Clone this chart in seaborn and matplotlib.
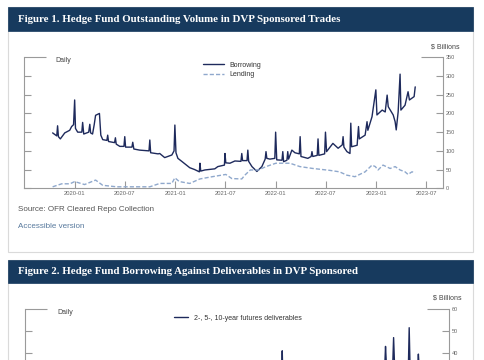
import numpy as np
import pandas as pd
import matplotlib
matplotlib.use("Agg")
import matplotlib.pyplot as plt
import matplotlib.dates as mdates
from matplotlib.patches import Rectangle
import seaborn as sns

# ---------------- data ----------------
borrow_dates = [
    "2019-10-13", "2019-10-28", "2019-10-31", "2019-11-03", "2019-11-10", "2019-11-26",
    "2019-12-14", "2019-12-21", "2019-12-28", "2020-01-01", "2020-01-04", "2020-01-12",
    "2020-01-27", "2020-01-30", "2020-02-03", "2020-02-21", "2020-02-25", "2020-02-28",
    "2020-03-06", "2020-03-12", "2020-03-17", "2020-03-25", "2020-03-31", "2020-04-05",
    "2020-04-12", "2020-04-27", "2020-04-30", "2020-05-03", "2020-05-25", "2020-05-28",
    "2020-05-31", "2020-06-13", "2020-06-28", "2020-07-01", "2020-07-04", "2020-07-27",
    "2020-07-30", "2020-08-03", "2020-08-24", "2020-09-27", "2020-09-30", "2020-10-03",
    "2020-10-30", "2020-11-05", "2020-11-23", "2020-12-19", "2020-12-27", "2020-12-30",
    "2021-01-03", "2021-01-10", "2021-01-24", "2021-02-22", "2021-03-12", "2021-03-29",
    "2021-03-31", "2021-04-03", "2021-04-18", "2021-05-24", "2021-06-04", "2021-06-28",
    "2021-06-30", "2021-07-03", "2021-07-18", "2021-08-05", "2021-08-27", "2021-08-30",
    "2021-09-02", "2021-09-18", "2021-09-21", "2021-09-24", "2021-10-06", "2021-10-24",
    "2021-11-11", "2021-11-23", "2021-11-26", "2021-11-29", "2021-12-10", "2021-12-28",
    "2021-12-31", "2022-01-04", "2022-01-23", "2022-01-26", "2022-01-29", "2022-02-10",
    "2022-02-13", "2022-02-16", "2022-02-28", "2022-03-11", "2022-03-27", "2022-03-30",
    "2022-04-02", "2022-04-27", "2022-05-09", "2022-05-12", "2022-05-15", "2022-05-31",
    "2022-06-03", "2022-06-06", "2022-06-27", "2022-06-30", "2022-07-04", "2022-07-27",
    "2022-08-15", "2022-08-30", "2022-09-02", "2022-09-05", "2022-09-16", "2022-09-27",
    "2022-09-30", "2022-10-03", "2022-10-23", "2022-10-28", "2022-10-31", "2022-11-21",
    "2022-11-28", "2022-12-01", "2022-12-16", "2022-12-30", "2023-01-03", "2023-01-22",
    "2023-02-02", "2023-02-09", "2023-02-13", "2023-03-03", "2023-03-10", "2023-03-14",
    "2023-03-21", "2023-03-28", "2023-03-31", "2023-04-15", "2023-04-26", "2023-05-01",
    "2023-05-18", "2023-05-22",
]
borrow_values = [
    148, 140, 167, 138, 132, 148,
    155, 165, 170, 236, 160, 150,
    150, 176, 145, 150, 171, 148,
    145, 170, 195, 198, 200, 142,
    130, 128, 142, 125, 122, 135,
    118, 112, 112, 138, 110, 110,
    123, 105, 102, 100, 129, 95,
    92, 93, 82, 89, 100, 169,
    95, 80, 72, 55, 50, 44,
    67, 46, 49, 52, 58, 62,
    93, 68, 67, 73, 72, 93,
    74, 74, 102, 72, 58, 45,
    58, 78, 98, 80, 78, 80,
    150, 76, 75, 98, 71, 75,
    98, 78, 102, 95, 92, 138,
    85, 80, 85, 98, 85, 88,
    132, 88, 92, 150, 98, 120,
    107, 116, 138, 110, 98, 93,
    174, 111, 115, 165, 132, 142,
    178, 155, 191, 263, 196, 209,
    204, 249, 218, 196, 178, 156,
    204, 305, 209, 222, 258, 236,
    245, 271,
]

lend_dates = [
    "2019-10-13", "2019-11-15", "2019-12-15", "2020-01-01", "2020-02-06", "2020-03-17",
    "2020-04-12", "2020-06-01", "2020-09-30", "2020-11-05", "2020-12-19", "2020-12-30",
    "2021-01-15", "2021-02-22", "2021-03-31", "2021-05-15", "2021-07-03", "2021-07-25",
    "2021-08-30", "2021-09-10", "2021-09-30", "2021-10-30", "2021-11-26", "2022-01-01",
    "2022-02-21", "2022-03-29", "2022-05-15", "2022-07-15", "2022-08-20", "2022-09-16",
    "2022-10-15", "2022-11-21", "2022-12-16", "2022-12-28", "2023-01-07", "2023-01-25",
    "2023-02-20", "2023-03-10", "2023-03-28", "2023-04-15", "2023-04-26", "2023-05-10",
    "2023-05-22",
]
lend_values = [
    4, 12, 12, 18, 10, 22,
    8, 4, 4, 13, 13, 28,
    18, 13, 25, 31, 37, 26,
    25, 35, 49, 49, 58, 67,
    67, 58, 53, 48, 44, 35,
    31, 44, 62, 58, 49, 62,
    53, 58, 49, 44, 37, 44,
    42,
]

fut_dates = [
    "2019-10-13", "2020-06-30", "2021-06-30", "2022-01-07", "2022-01-10", "2022-01-13",
    "2022-07-01", "2023-01-13", "2023-01-16", "2023-01-19", "2023-02-11", "2023-02-14",
    "2023-02-17", "2023-04-08", "2023-04-11", "2023-04-14", "2023-05-11", "2023-05-14",
    "2023-05-17", "2023-05-22",
]
fut_values = [
    12, 15, 18, 24, 41, 24,
    26, 33, 43, 35, 35, 47,
    36, 33, 51.5, 34, 33, 39.5,
    33, 34,
]

chart1_title = "Figure 1. Hedge Fund Outstanding Volume in DVP Sponsored Trades"
chart2_title = "Figure 2. Hedge Fund Borrowing Against Deliverables in DVP Sponsored"
y1_ticks = [0, 50, 100, 150, 200, 250, 300, 350]
y2_ticks = [0, 10, 20, 30, 40, 50, 60]
y2_labels = ["", "", "", "", "40", "50", "60"]   # lower labels fall below the visible crop
x_tick_labels = ["2020-01", "2020-07", "2021-01", "2021-07",
                 "2022-01", "2022-07", "2023-01", "2023-07"]

# ---------------- style ----------------
sns.set_style("white")
plt.rcParams["font.family"] = ["Liberation Sans", "DejaVu Sans"]

W, H = 485, 360
fig = plt.figure(figsize=(W / 100, H / 100), dpi=100)
fig.patch.set_facecolor("white")

NAVY = "#173a5e"
BORDER = "#dadada"
AX_GREY = "#9a9a9a"
LINE_DARK = "#1e2a5c"
LINE_LIGHT = "#8fa8cc"


def fx(px):
    return px / W


def fy(py):
    return 1 - py / H


def card(top, bottom, head_bottom, title):
    fig.patches.append(Rectangle((fx(8), fy(bottom)), fx(465), (bottom - top) / H,
                                 transform=fig.transFigure, facecolor="white",
                                 edgecolor=BORDER, linewidth=0.8, zorder=-3))
    fig.patches.append(Rectangle((fx(8), fy(head_bottom)), fx(465), (head_bottom - top) / H,
                                 transform=fig.transFigure, facecolor=NAVY,
                                 edgecolor=NAVY, linewidth=0.5, zorder=-2))
    fig.text(fx(18), fy((top + head_bottom) / 2), title, color="white",
             family=["Liberation Serif", "DejaVu Serif"], weight="bold",
             fontsize=7.8, va="center", ha="left")


card(7, 252, 31, chart1_title)
card(260, 420, 283, chart2_title)


def style_axes(ax, ticks, labels, ylim, show_xlabels=True):
    ax.set_ylim(*ylim)
    ax.set_xlim(pd.Timestamp("2019-07-01"), pd.Timestamp("2023-09-01"))
    ax.set_yticks(ticks)
    ax.set_yticklabels(labels)
    ax.set_xticks(pd.to_datetime([s + "-01" for s in x_tick_labels]))
    ax.set_xticklabels(x_tick_labels)
    ax.set_xlabel("")
    ax.set_ylabel("")
    ax.set_facecolor("none")
    for side in ["left", "right", "bottom"]:
        ax.spines[side].set_visible(True)
        ax.spines[side].set_color(AX_GREY)
        ax.spines[side].set_linewidth(0.8)
    ax.spines["top"].set_visible(False)
    ax.tick_params(axis="y", left=True, right=True, labelleft=False, labelright=True,
                   direction="in", length=5.3, width=0.8, color=AX_GREY,
                   labelsize=4, labelcolor="#666666", pad=2)
    ax.tick_params(axis="x", bottom=True, direction="in", length=5, width=0.8,
                   color=AX_GREY, labelsize=4.2, labelcolor="#666666", pad=2,
                   labelbottom=show_xlabels)
    top_tick = ax.yaxis.get_major_ticks()[-1]
    top_tick.tick1line.set_markersize(16)
    top_tick.tick2line.set_markersize(16)
    ax.grid(False)


# ---------------- chart 1 ----------------
ax1 = fig.add_axes([fx(24), fy(188.3), fx(443.3 - 24), (188.3 - 57.3) / H])
ax1.set_zorder(2)
df1 = pd.concat([
    pd.DataFrame({"date": pd.to_datetime(borrow_dates), "value": borrow_values, "series": "Borrowing"}),
    pd.DataFrame({"date": pd.to_datetime(lend_dates), "value": lend_values, "series": "Lending"}),
])
sns.lineplot(data=df1, x="date", y="value", hue="series", style="series",
             palette={"Borrowing": LINE_DARK, "Lending": LINE_LIGHT},
             dashes={"Borrowing": "", "Lending": (3, 1.5)},
             linewidth=1.0, ax=ax1, estimator=None, sort=True)
style_axes(ax1, y1_ticks, [str(t) for t in y1_ticks], (0, 350))
h, l = ax1.get_legend_handles_labels()
ax1.legend(h, l, loc="center", bbox_to_anchor=(fx(232), fy(70)),
           bbox_transform=fig.transFigure, frameon=False, fontsize=5,
           handlelength=3, handletextpad=0.8, labelspacing=0.35,
           labelcolor="#333333")
fig.text(fx(55), fy(60), "Daily", fontsize=5, color="#444444", va="center", ha="left")
fig.text(fx(460), fy(47), "$ Billions", fontsize=5, color="#444444", va="center", ha="right")
fig.text(fx(18), fy(209), "Source: OFR Cleared Repo Collection", fontsize=5.8,
         color="#555555", va="center", ha="left")
fig.text(fx(18), fy(227), "Accessible version", fontsize=5.8,
         color="#56789c", va="center", ha="left")

# ---------------- chart 2 ----------------
ax2 = fig.add_axes([fx(25), fy(441), fx(449 - 25), (441 - 309) / H])
ax2.set_zorder(2)
df2 = pd.DataFrame({"date": pd.to_datetime(fut_dates), "value": fut_values,
                    "series": "2-, 5-, 10-year futures deliverables"})
sns.lineplot(data=df2, x="date", y="value", hue="series",
             palette={"2-, 5-, 10-year futures deliverables": LINE_DARK},
             linewidth=1.0, ax=ax2, estimator=None, sort=True)
style_axes(ax2, y2_ticks, y2_labels, (0, 60), show_xlabels=False)
h, l = ax2.get_legend_handles_labels()
ax2.legend(h, l, loc="center", bbox_to_anchor=(fx(238), fy(318)),
           bbox_transform=fig.transFigure, frameon=False, fontsize=5,
           handlelength=2, handletextpad=0.8, labelcolor="#333333")
fig.text(fx(57), fy(312), "Daily", fontsize=5, color="#444444", va="center", ha="left")
fig.text(fx(462), fy(298), "$ Billions", fontsize=5, color="#444444", va="center", ha="right")

fig.savefig("out.png", dpi=100)
